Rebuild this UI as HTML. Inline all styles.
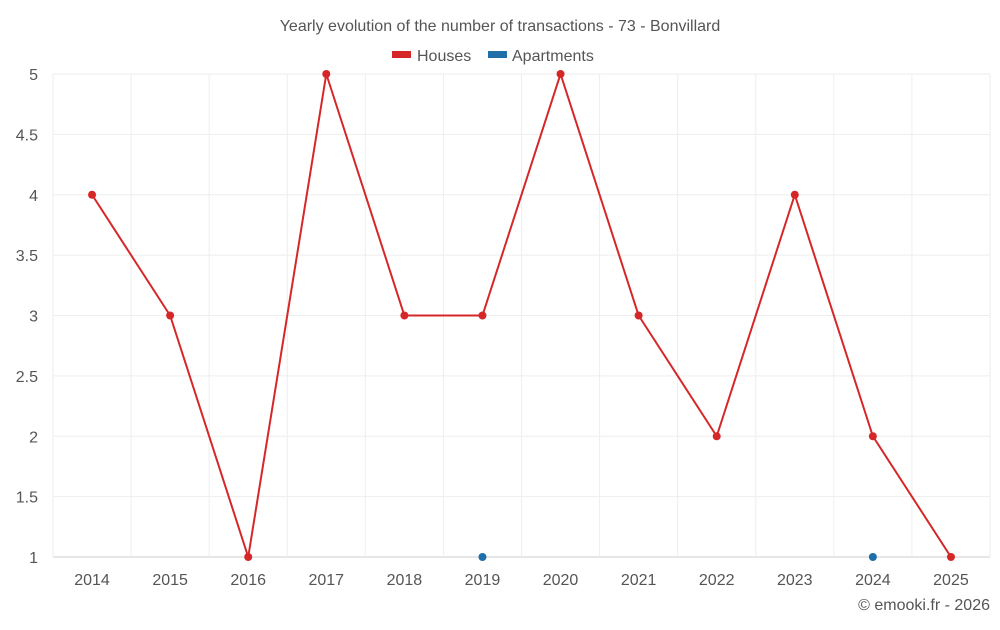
<!DOCTYPE html>
<html><head><meta charset="utf-8"><style>
body{margin:0;background:#fff;font-family:"Liberation Sans",sans-serif;}
svg text{font-family:"Liberation Sans",sans-serif;fill:#555;}
</style></head><body>
<svg id="chart" width="1000" height="625">
<text x="500" y="31" text-anchor="middle" font-size="16">Yearly evolution of the number of transactions - 73 - Bonvillard</text>
<g>
<rect x="392" y="51" width="19" height="7" fill="#d62728"/>
<text x="417" y="61" font-size="16">Houses</text>
<rect x="488" y="51" width="19" height="7" fill="#1f6fa8"/>
<text x="512" y="61" font-size="16">Apartments</text>
</g>
<g id="grid"></g><g id="axes"></g><g id="series"></g>
<text x="990" y="610" text-anchor="end" font-size="16">© emooki.fr - 2026</text>
</svg>
<script>
const years=[2014,2015,2016,2017,2018,2019,2020,2021,2022,2023,2024,2025];
const houses=[4,3,1,5,3,3,5,3,2,4,2,1];
const apartments=[null,null,null,null,null,1,null,null,null,null,1,null];
const yTicks=[1,1.5,2,2.5,3,3.5,4,4.5,5];
const NS="http://www.w3.org/2000/svg";
const L=53,R=990,T=74,B=557,yMin=1,yMax=5;
const bw=(R-L)/years.length;
const xs=i=>L+bw*(i+0.5);
const ys=v=>B-(v-yMin)/(yMax-yMin)*(B-T);
function mk(t,a,p){const e=document.createElementNS(NS,t);for(const k in a)e.setAttribute(k,a[k]);p.appendChild(e);return e;}
const g=document.getElementById('grid'),ax=document.getElementById('axes'),s=document.getElementById('series');
yTicks.forEach(v=>{
 const l=mk('line',{x1:L,x2:R,y1:ys(v),y2:ys(v),stroke:v===yMin?'#ccc':'#eee'},g);
 
 
 const t=mk('text',{x:38,y:ys(v)+6,'text-anchor':'end','font-size':16},ax);t.textContent=v;
 
 
});
for(let i=0;i<=years.length;i++){
 const l=mk('line',{x1:L+bw*i,x2:L+bw*i,y1:T,y2:B,stroke:'#eee'},g);
 
 
}
years.forEach((y,i)=>{
 const t=mk('text',{x:xs(i),y:585,'text-anchor':'middle','font-size':16},ax);t.textContent=y;
 
 
});
const p=mk('polyline',{points:houses.map((v,i)=>xs(i)+','+ys(v)).join(' '),fill:'none',stroke:'#d62728','stroke-width':2},s);


houses.forEach((v,i)=>{
 const c=mk('circle',{cx:xs(i),cy:ys(v),r:4,fill:'#d62728'},s);
 
 
});
apartments.forEach((v,i)=>{
 if(v===null)return;
 const c=mk('circle',{cx:xs(i),cy:ys(v),r:4,fill:'#1f6fa8'},s);
 
 
});
</script>
</body></html>
